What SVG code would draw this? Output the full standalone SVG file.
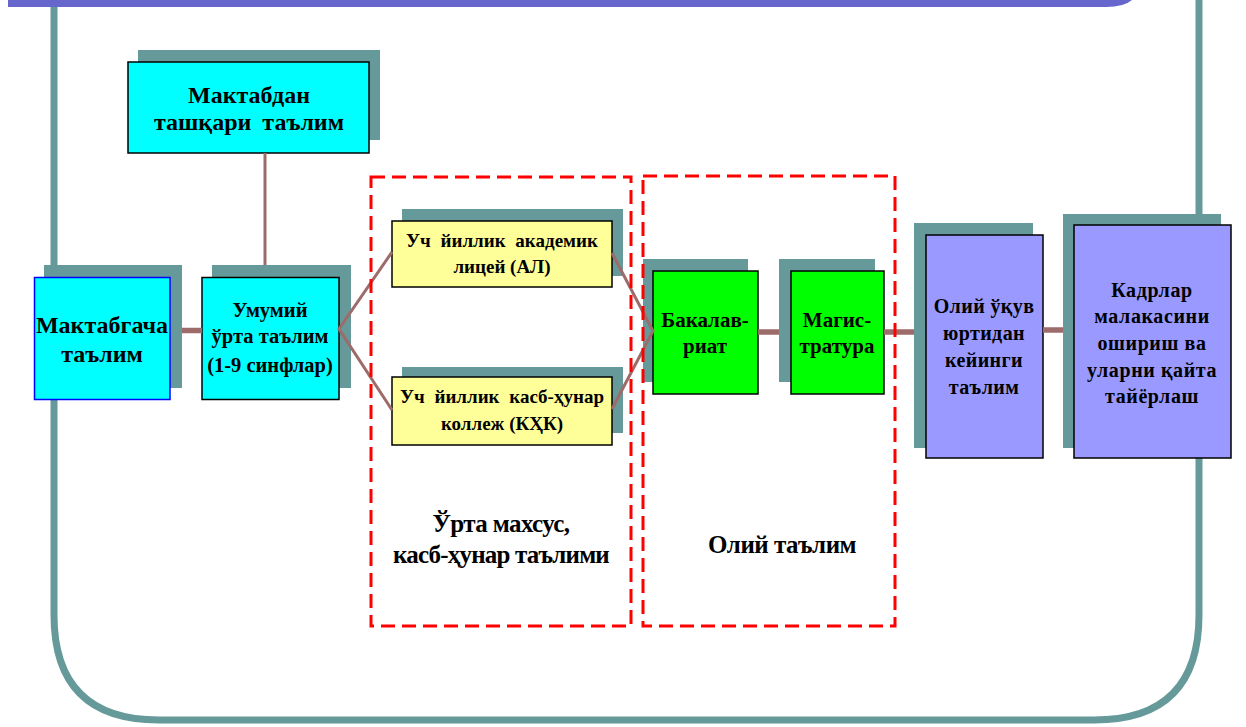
<svg xmlns="http://www.w3.org/2000/svg" width="1246" height="727" viewBox="0 0 1246 727">
<style>
.sh{fill:#669999}
.bx{stroke:#000;stroke-width:1.5}
.cy{fill:#00FFFF}
.yl{fill:#FFFF99}
.gr{fill:#00FF00}
.pu{fill:#9999FF}
text{font-family:"Liberation Serif","Times New Roman",serif;font-weight:bold;fill:#000;text-anchor:middle}
.c{stroke:#9E6B6B;fill:none}
.thin{stroke-width:3}
.thick{stroke-width:5.5}
.dash{fill:none;stroke:#FF0000;stroke-width:3;stroke-dasharray:14 7}
</style>
<rect width="1246" height="727" fill="#fff"/>
<g id="frame">
<path d="M54,0 V615 Q54,720 159,720 H1094 Q1199,720 1199,615 V0" fill="none" stroke="#669999" stroke-width="7"/>
<path d="M8,0 H1132 Q1124,7 1106,7 H8 Z" fill="#6666CC"/>
</g>
<g id="node-outschool">
<rect class="sh" x="138" y="50" width="242" height="90"/>
<rect class="bx cy" x="128" y="62" width="241" height="91"/>
<text font-size="24" x="249" y="103">Мактабдан</text>
<text font-size="24" x="249" y="130" word-spacing="5">ташқари таълим</text>
</g>
<g id="node-preschool">
<rect class="sh" x="44" y="265" width="138" height="123"/>
<rect x="34.5" y="277.5" width="135.5" height="122" fill="#00FFFF" stroke="#0000FF" stroke-width="1.5"/>
<text font-size="24" x="102" y="333">Мактабгача</text>
<text font-size="24" x="102" y="362">таълим</text>
</g>
<g id="node-general">
<rect class="sh" x="212" y="265" width="139" height="123"/>
<rect class="bx cy" x="202" y="277.5" width="137" height="122"/>
<text font-size="20.5" x="270" y="317">Умумий</text>
<text font-size="20.5" x="270" y="343">ўрта таълим</text>
<text font-size="20.5" x="270" y="372">(1-9 синфлар)</text>
</g>
<g id="node-lyceum">
<rect class="sh" x="402" y="209" width="221" height="67"/>
<rect class="bx yl" x="392" y="221" width="220" height="66"/>
<text font-size="19" x="502" y="247" word-spacing="5">Уч йиллик академик</text>
<text font-size="19" x="502" y="273">лицей (АЛ)</text>
</g>
<g id="node-college">
<rect class="sh" x="402" y="367" width="221" height="66"/>
<rect class="bx yl" x="392" y="377" width="220" height="68"/>
<text font-size="19" x="502" y="403" word-spacing="5">Уч йиллик касб-ҳунар</text>
<text font-size="19" x="502" y="430">коллеж (КҲК)</text>
</g>
<g id="node-bachelor">
<rect class="sh" x="643" y="259" width="105" height="123"/>
<rect class="bx gr" x="653" y="271" width="105" height="123"/>
<text font-size="21" x="705" y="327">Бакалав-</text>
<text font-size="21" x="705" y="353">риат</text>
</g>
<g id="node-master">
<rect class="sh" x="779" y="259" width="96" height="123"/>
<rect class="bx gr" x="791" y="271" width="93" height="123"/>
<text font-size="21" x="837" y="327">Магис-</text>
<text font-size="21" x="837" y="353">тратура</text>
</g>
<g id="node-postgrad">
<rect class="sh" x="914" y="223" width="119" height="225"/>
<rect class="bx pu" x="926" y="235" width="117" height="223"/>
<text font-size="20" letter-spacing="0.4" x="984" y="313">Олий ўқув</text>
<text font-size="20" letter-spacing="0.4" x="984" y="340">юртидан</text>
<text font-size="20" letter-spacing="0.4" x="984" y="367">кейинги</text>
<text font-size="20" letter-spacing="0.4" x="984" y="394">таълим</text>
</g>
<g id="node-retraining">
<rect class="sh" x="1063" y="214" width="158" height="234"/>
<rect class="bx pu" x="1074" y="225" width="157" height="233"/>
<text font-size="20" letter-spacing="0.6" x="1152" y="297">Кадрлар</text>
<text font-size="20" letter-spacing="0.6" x="1152" y="323">малакасини</text>
<text font-size="20" letter-spacing="0.6" x="1152" y="350">ошириш ва</text>
<text font-size="20" letter-spacing="0.6" x="1152" y="377">уларни қайта</text>
<text font-size="20" letter-spacing="0.6" x="1152" y="403">тайёрлаш</text>
</g>
<g id="connectors">
<line class="c thick" x1="182" y1="330.5" x2="202" y2="330.5"/>
<line class="c thin" x1="265" y1="153" x2="265" y2="265"/>
<polyline class="c thin" points="392,252 339,329 392,410"/>
<polyline class="c thin" points="612,253 653,331 612,409"/>
<line class="c thick" x1="758" y1="332" x2="779" y2="332"/>
<line class="c thick" x1="884" y1="332" x2="914" y2="332"/>
<line class="c thick" x1="1043" y1="330" x2="1063" y2="330"/>
</g>
<g id="group-secondary">
<rect class="dash" x="371" y="177" width="260" height="449"/>
<text font-size="25" x="501" y="532" letter-spacing="-0.6">Ўрта махсус,</text>
<text font-size="25" x="501" y="563" letter-spacing="-0.8">касб-ҳунар таълими</text>
</g>
<g id="group-higher">
<rect class="dash" x="643" y="176" width="252" height="450"/>
<text font-size="25" x="782" y="553" letter-spacing="-0.5">Олий таълим</text>
</g>
</svg>
